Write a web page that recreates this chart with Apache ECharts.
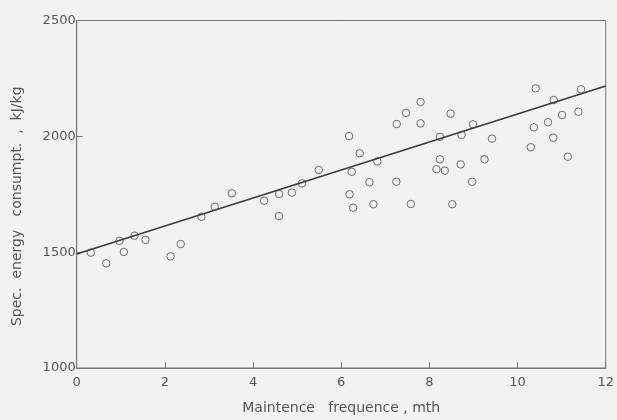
<!DOCTYPE html>
<html>
<head>
<meta charset="utf-8">
<script src="https://cdn.jsdelivr.net/npm/echarts@6/dist/echarts.min.js"></script>
<style>
html,body{margin:0;padding:0;background:#f2f2f2;}
#c{width:617px;height:420px;}
</style>
</head>
<body>
<div id="c"></div>
<script>
// Scatter data: maintenance frequency (months) vs specific energy consumption (kJ/kg)
const freqX = [0.32,0.67,0.97,1.07,1.31,1.56,2.13,2.36,2.83,3.13,3.52,4.25,4.59,4.59,4.88,5.11,5.49,
  6.18,6.42,6.24,6.19,6.27,6.82,6.64,6.73,7.25,7.26,7.47,7.80,7.80,7.58,8.24,8.24,8.16,8.35,8.48,8.73,8.71,8.52,
  8.99,8.97,9.42,9.25,10.41,10.37,10.30,10.82,10.69,11.01,10.81,11.14,11.38,11.44];
const energyY = [1498,1452,1549,1501,1571,1553,1482,1535,1653,1696,1754,1722,1751,1656,1757,1797,1855,
  2001,1927,1847,1750,1692,1892,1802,1707,1804,2053,2101,2148,2056,1708,1998,1901,1858,1852,2098,2006,1879,1707,
  2052,1804,1990,1901,2207,2039,1953,2157,2061,2092,1994,1912,2106,2203];
// Fitted regression line endpoints
const lineX = [0, 12];
const lineY = [1492, 2217];
const xTicks = [0,2,4,6,8,10,12];
const yTicks = [1000,1500,2000,2500];

const scatterData = freqX.map((x,i)=>[x, energyY[i]]);
const lineData = lineX.map((x,i)=>[x, lineY[i]]);

const textColor = '#555';
const axisColor = '#777';
const font = 'DejaVu Sans';

const chart = echarts.init(document.getElementById('c'), null, {renderer:'canvas'});
chart.setOption({
  backgroundColor:'#f2f2f2',
  animation:false,
  grid:{left:76.7, right:6.3, top:20.5, bottom:52, show:true, borderColor:axisColor, borderWidth:1, backgroundColor:'transparent'},
  xAxis:{
    type:'value', min:xTicks[0], max:xTicks[xTicks.length-1], interval:xTicks[1]-xTicks[0],
    name:'Maintence   frequence , mth', nameLocation:'middle', nameGap:33,
    nameTextStyle:{color:textColor, fontFamily:font, fontSize:14},
    axisLine:{show:true, lineStyle:{color:axisColor, width:1}},
    axisTick:{show:true, inside:true, length:6, lineStyle:{color:axisColor}},
    axisLabel:{color:textColor, fontFamily:font, fontSize:13, margin:8, formatter:v=>String(v)},
    splitLine:{show:false}
  },
  yAxis:{
    type:'value', min:yTicks[0], max:yTicks[yTicks.length-1], interval:yTicks[1]-yTicks[0],
    name:'Spec.  energy   consumpt.  ,  kJ/kg', nameLocation:'middle', nameGap:52,
    nameTextStyle:{color:textColor, fontFamily:font, fontSize:14, padding:[0,24,0,0]},
    axisLine:{show:true, lineStyle:{color:axisColor, width:1}},
    axisTick:{show:true, inside:true, length:6, lineStyle:{color:axisColor}},
    axisLabel:{color:textColor, fontFamily:font, fontSize:13, margin:1, formatter:v=>String(v)},
    splitLine:{show:false}
  },
  series:[
    {type:'line', data:lineData, showSymbol:false, symbol:'none',
     lineStyle:{color:'#3a3a3a', width:1.6}, z:2},
    {type:'scatter', data:scatterData, symbol:'circle', symbolSize:7.5,
     itemStyle:{color:'rgba(0,0,0,0)', borderColor:'#4a4a4a', borderWidth:1}, z:3}
  ]
});
</script>
</body>
</html>
